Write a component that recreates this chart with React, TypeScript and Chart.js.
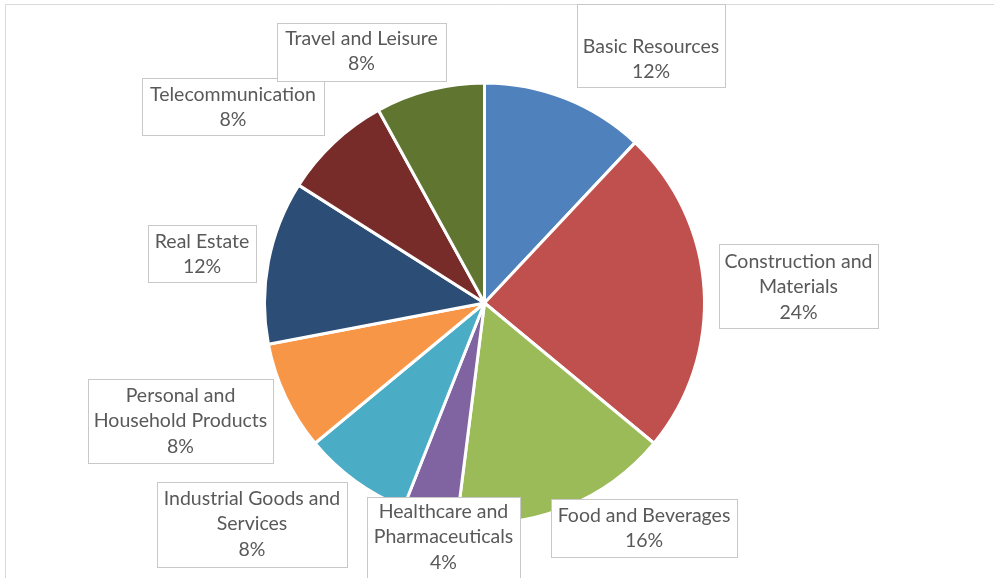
import React, { useEffect, useRef } from "react";
import { Chart, registerables } from "chart.js";

Chart.register(...registerables);

const categories = [
  "Basic Resources",
  "Construction and Materials",
  "Food and Beverages",
  "Healthcare and Pharmaceuticals",
  "Industrial Goods and Services",
  "Personal and Household Products",
  "Real Estate",
  "Telecommunication",
  "Travel and Leisure",
];
const shares = [12, 24, 16, 4, 8, 8, 12, 8, 8];
const colors = [
  "#4F81BD",
  "#C0504D",
  "#9BBB59",
  "#8064A2",
  "#4BACC6",
  "#F79646",
  "#2C4D75",
  "#772C2A",
  "#5F7530",
];

// label wrapping (break after word index) and box placement relative to pie centre
const wrapAt = [0, 1, 0, 1, 2, 1, 0, 0, 0];
const boxes: [number, number, number, number, number][] = [
  // x0, y0, x1, y1, text-centre dy
  [92.5, -299, 240.5, -216, -243.5],
  [234.5, -59, 393.5, 25, -16],
  [66.5, 196, 252.5, 254, 225.5],
  [-117.5, 194, 35.5, 276, 234],
  [-327.5, 179, -137.5, 264, 221],
  [-396.5, 76, -211.5, 160, 118],
  [-336.5, -78, -228.5, -21, -48.5],
  [-342.5, -225, -160.5, -168, -195.5],
  [-207.5, -280, -38.5, -222, -251.5],
];

function wrapLabel(name: string, n: number): string[] {
  if (!n) return [name];
  const w = name.split(" ");
  return [w.slice(0, n + 1).join(" "), w.slice(n + 1).join(" ")];
}

const FONT_FAMILY = "Lato, 'Open Sans', sans-serif";

const labelPlugin = {
  id: "boxedLabels",
  beforeDraw(chart: any) {
    const ctx = chart.ctx;
    ctx.save();
    ctx.strokeStyle = "#D9D9D9";
    ctx.lineWidth = 1;
    ctx.beginPath();
    ctx.moveTo(5.5, chart.height + 2);
    ctx.lineTo(5.5, 4.5);
    ctx.lineTo(chart.width + 2, 4.5);
    ctx.stroke();
    ctx.restore();
  },
  afterDraw(chart: any) {
    const ctx = chart.ctx;
    const meta = chart.getDatasetMeta(0);
    const total = shares.reduce((a, b) => a + b, 0);
    ctx.save();
    ctx.font = `19.5px ${FONT_FAMILY}`;
    ctx.textAlign = "center";
    ctx.textBaseline = "middle";
    meta.data.forEach((arc: any, i: number) => {
      const cx = arc.x;
      const cy = arc.y;
      const [x0, y0, x1, y1, ty] = boxes[i];
      ctx.fillStyle = "#FFFFFF";
      ctx.fillRect(cx + x0, cy + y0, x1 - x0, y1 - y0);
      ctx.strokeStyle = "#C8C8C8";
      ctx.lineWidth = 1;
      ctx.strokeRect(Math.round(cx + x0) + 0.5, Math.round(cy + y0) + 0.5, Math.round(x1 - x0), Math.round(y1 - y0));
      const lines = wrapLabel(categories[i], wrapAt[i]);
      lines.push(Math.round((shares[i] / total) * 100) + "%");
      const lh = 25.3;
      const tx = cx + (x0 + x1) / 2;
      const start = cy + ty - ((lines.length - 1) * lh) / 2;
      ctx.fillStyle = "#595959";
      lines.forEach((ln, k) => ctx.fillText(ln, tx, start + k * lh));
    });
    ctx.restore();
  },
};

export default function App() {
  const ref = useRef<HTMLCanvasElement>(null);
  useEffect(() => {
    if (!ref.current) return;
    const chart = new Chart(ref.current, {
      type: "pie",
      data: {
        labels: categories,
        datasets: [
          {
            data: shares,
            backgroundColor: colors,
            borderColor: "#FFFFFF",
            borderWidth: 3,
          },
        ],
      },
      options: {
        responsive: false,
        animation: false,
        radius: 220,
        layout: { padding: { left: 0, right: 25, top: 28, bottom: 0 } },
        plugins: {
          legend: { display: false },
          tooltip: { enabled: false },
        },
      } as any,
      plugins: [labelPlugin],
    });
    return () => chart.destroy();
  }, []);
  return (
    <canvas
      ref={ref}
      width={994}
      height={578}
      style={{ position: "absolute", left: 0, top: 0, width: 994, height: 578, background: "#fff" }}
    />
  );
}
